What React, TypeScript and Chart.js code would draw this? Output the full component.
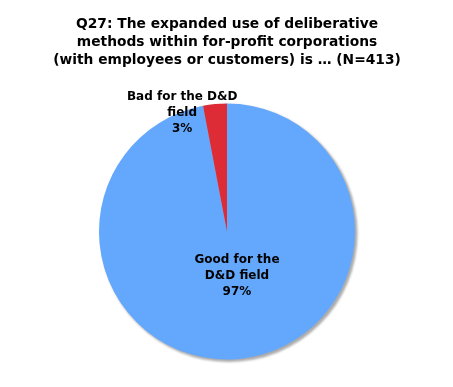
import React, { useEffect, useRef } from "react";
import { Chart, registerables } from "chart.js";

Chart.register(...registerables);

const titleLines = [
  "Q27: The expanded use of deliberative",
  "methods within for-profit corporations",
  "(with employees or customers) is \u2026 (N=413)",
];
const categories = ["Good for the D&D field", "Bad for the D&D field"];
const labelLines = [
  ["Good for the", "D&D field"],
  ["Bad for the D&D", "field"],
];
const values = [97, 3];
const colors = ["#63a8fd", "#de2c36"];

const FONT = "'DejaVu Sans', Verdana, sans-serif";

const shadowPlugin = {
  id: "pieShadow",
  beforeDatasetsDraw(chart: any) {
    const meta = chart.getDatasetMeta(0);
    const arc = meta.data[0];
    if (!arc) return;
    const { x, y, outerRadius } = arc.getProps(["x", "y", "outerRadius"], true);
    const ctx = chart.ctx;
    ctx.save();
    ctx.fillStyle = "rgba(150,150,150,0.8)";
    ctx.filter = "blur(1px)";
    ctx.beginPath();
    ctx.arc(x + 2, y + 2, outerRadius + 0.5, 0, Math.PI * 2);
    ctx.fill();
    ctx.restore();
  },
};

const titlePlugin = {
  id: "customTitle",
  afterDraw(chart: any) {
    const ctx = chart.ctx;
    ctx.save();
    ctx.font = `bold 13.8px ${FONT}`;
    ctx.fillStyle = "#000";
    ctx.textAlign = "center";
    ctx.textBaseline = "middle";
    const cx = (chart.chartArea.left + chart.chartArea.right) / 2;
    titleLines.forEach((t, k) => ctx.fillText(t, cx, 24 + k * 18));
    ctx.restore();
  },
};

// label centre offsets relative to pie centre, as fractions of radius
const labelOffsets = [
  [0.078, 0.344],
  [-0.35, -0.926],
];

const labelPlugin = {
  id: "sliceLabels",
  afterDatasetsDraw(chart: any) {
    const meta = chart.getDatasetMeta(0);
    const ctx = chart.ctx;
    ctx.save();
    ctx.font = `bold 12px ${FONT}`;
    ctx.fillStyle = "#000";
    ctx.textAlign = "center";
    ctx.textBaseline = "middle";
    const lh = 16;
    meta.data.forEach((arc: any, i: number) => {
      const { x, y, outerRadius } = arc.getProps(["x", "y", "outerRadius"], true);
      const lines = [...labelLines[i], values[i] + "%"];
      const cx = x + labelOffsets[i][0] * outerRadius;
      const cy = y + labelOffsets[i][1] * outerRadius;
      const top = cy - ((lines.length - 1) * lh) / 2;
      lines.forEach((t, k) => ctx.fillText(t, cx, top + k * lh));
    });
    ctx.restore();
  },
};

export default function App() {
  const ref = useRef<HTMLCanvasElement>(null);
  useEffect(() => {
    if (!ref.current) return;
    const chart = new Chart(ref.current, {
      type: "pie",
      data: {
        labels: categories,
        datasets: [
          {
            data: values,
            backgroundColor: colors,
            borderWidth: 0,
          },
        ],
      },
      options: {
        animation: false,
        responsive: false,
        layout: { padding: { left: 99, right: 98, bottom: 27.5, top: 103.5 } },
        plugins: {
          legend: { display: false },
          tooltip: { enabled: false },
          title: { display: false },
        },
      },
      plugins: [shadowPlugin, labelPlugin, titlePlugin],
    });
    return () => chart.destroy();
  }, []);
  return (
    <div style={{ position: "fixed", left: 0, top: 0, width: 453, height: 387, background: "#fff" }}>
      <canvas ref={ref} width={453} height={387} />
    </div>
  );
}
